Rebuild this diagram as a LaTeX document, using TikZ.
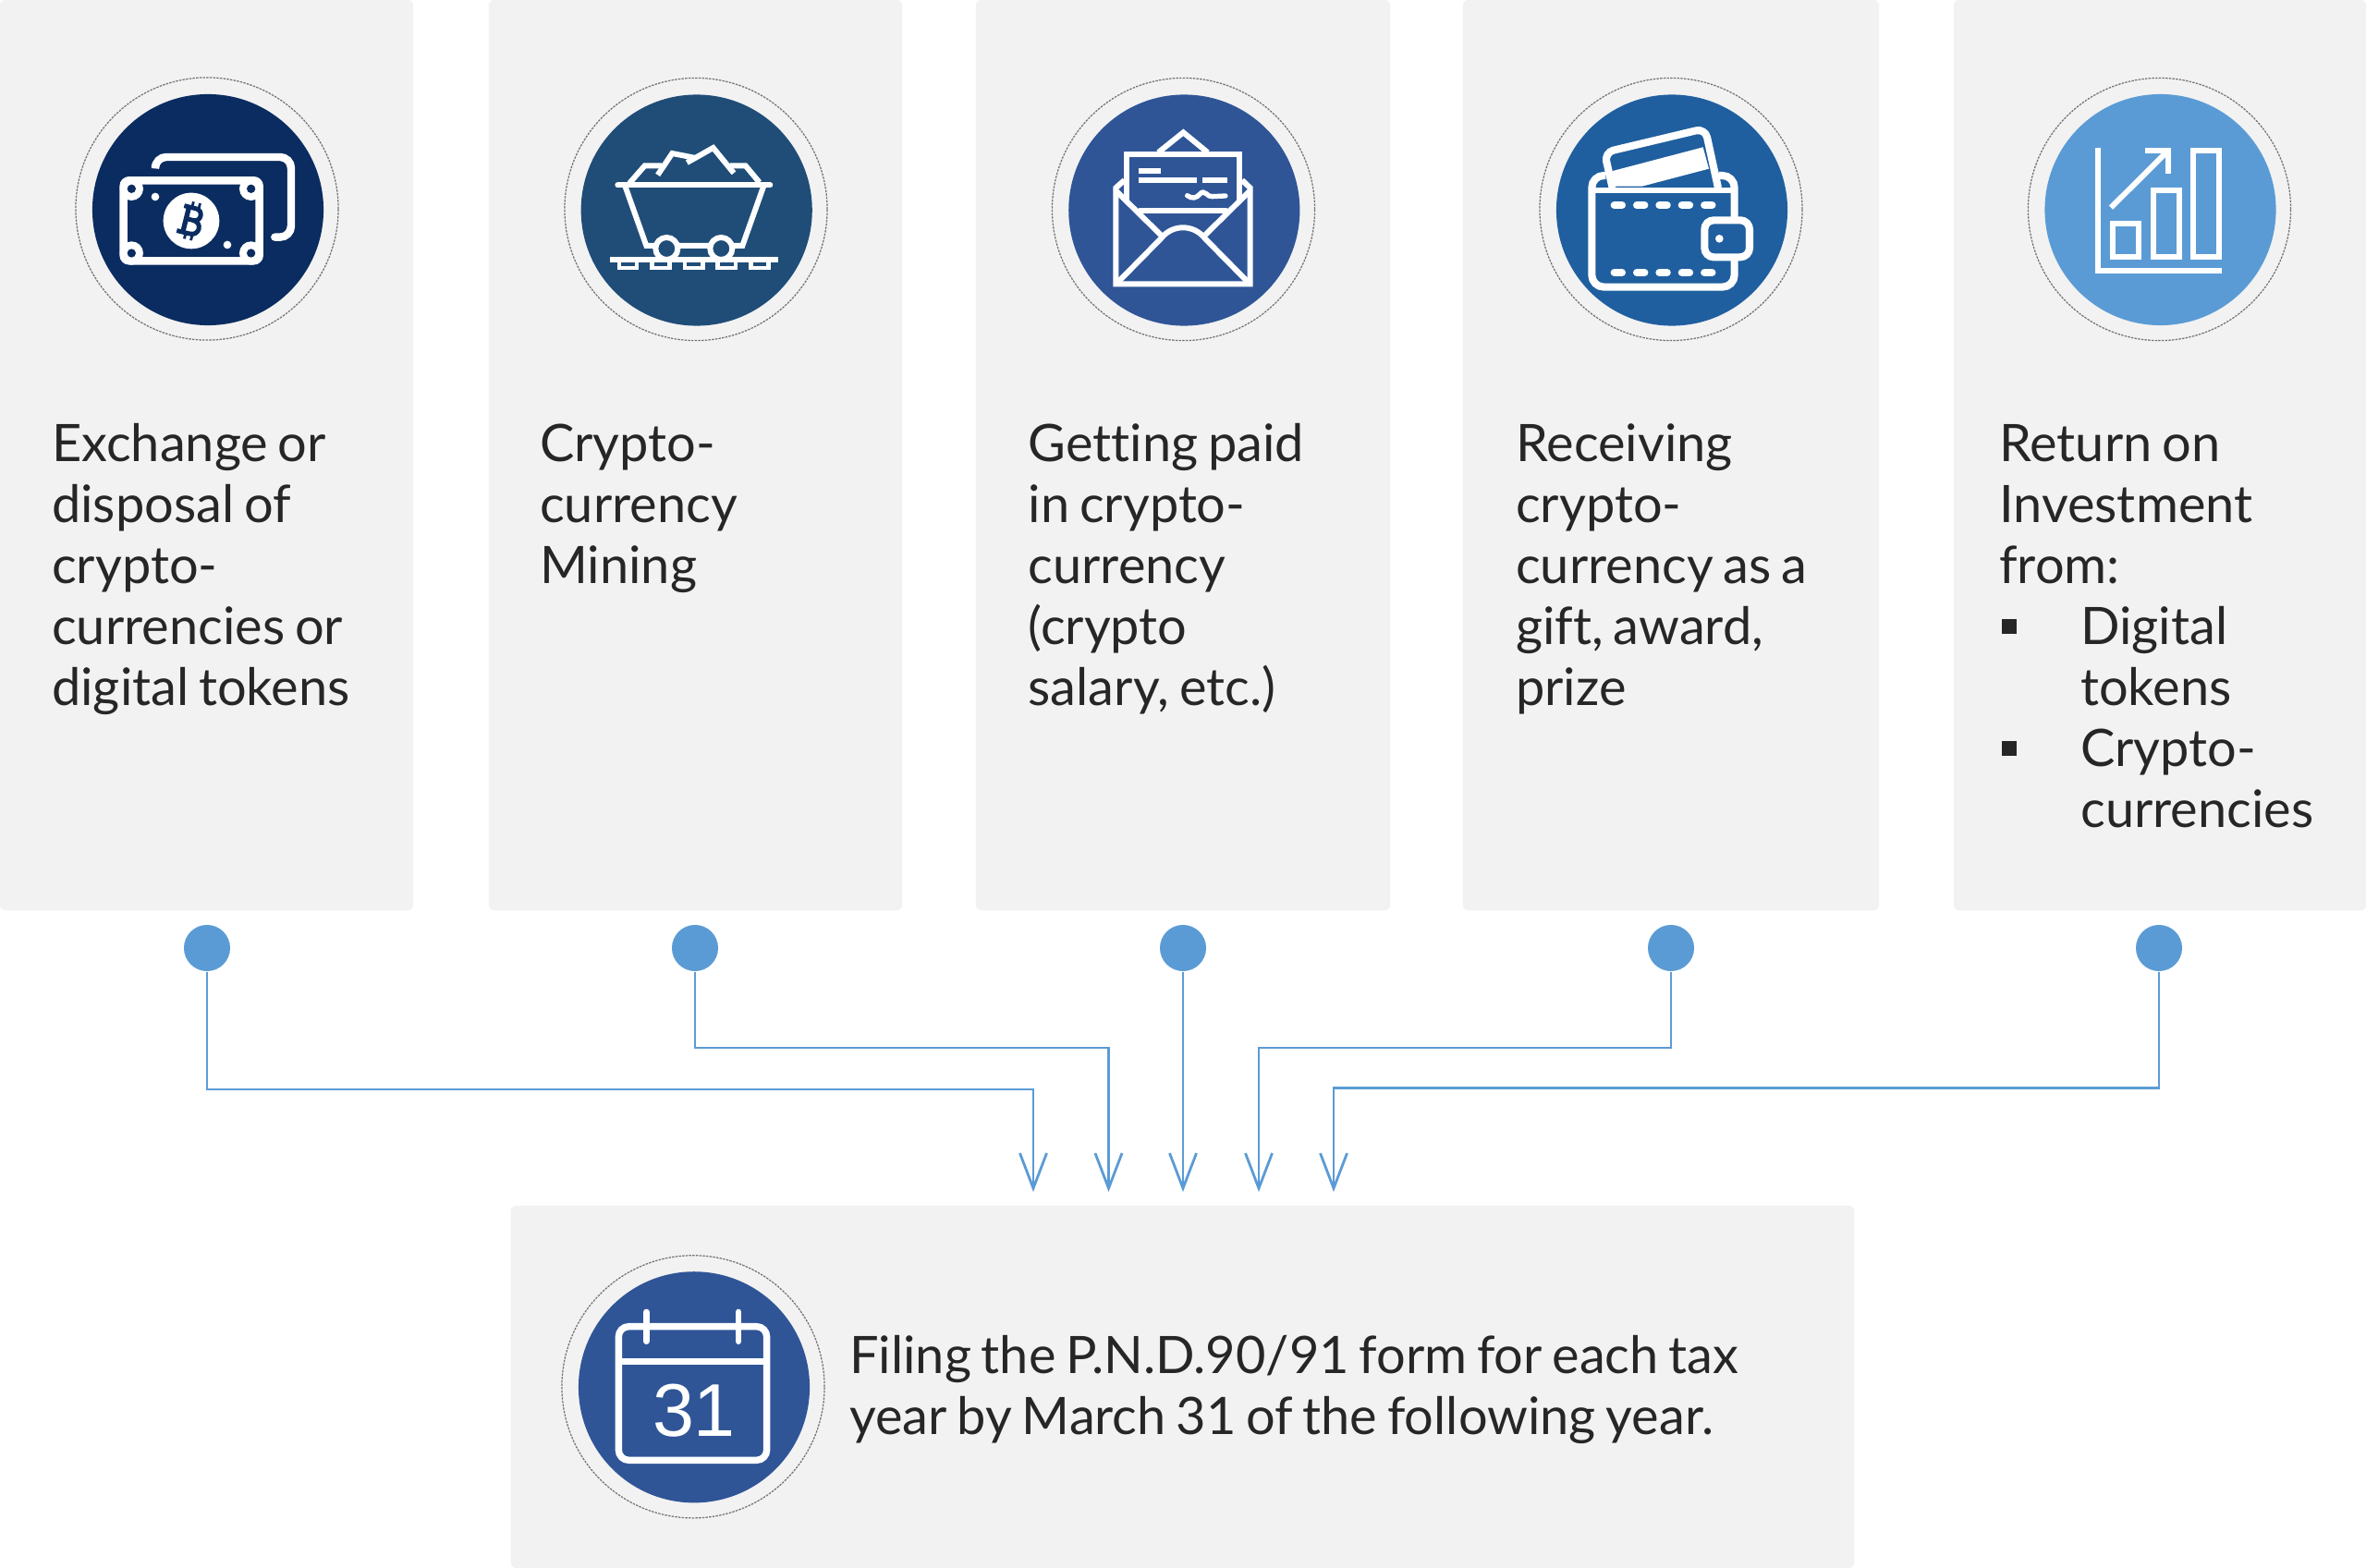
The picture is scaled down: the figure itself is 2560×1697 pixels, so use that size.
\documentclass[tikz,border=0pt]{standalone}
\usepackage{fontspec}
\setmainfont[Ligatures=NoCommon,WordSpace=.75]{Lato}
\usetikzlibrary{arrows.meta}
\definecolor{szurke}{HTML}{F2F2F2}
\definecolor{kek}{HTML}{5B9BD5}
\definecolor{navy}{HTML}{0A2C60}
\definecolor{cart}{HTML}{1F4D78}
\definecolor{mail}{HTML}{2F5597}
\definecolor{wallet}{HTML}{1F5F9F}
\definecolor{betu}{HTML}{262626}
\newcommand{\felso}{\rule{0pt}{.5cm}}
\newcommand{\pont}{\makebox[.88cm][l]{\hspace{.03cm}\rule[.12cm]{.155cm}{.155cm}}}
\begin{document}
\begin{tikzpicture}[%
x=.01cm,y=-.01cm,
>={Straight Barb[length=3.8mm,width=2.9mm]},
panel/.style={fill=szurke, rounded corners=.6mm, inner sep=0},
disc/.style={circle, inner sep=0, minimum size=2.5cm},
ring/.style={circle, inner sep=0, minimum size=2.84cm, draw=black!55, line width=.35pt, dash pattern=on .7pt off .35pt},
dot/.style={circle, inner sep=0, minimum size=.5cm, fill=kek},
link/.style={->, draw=kek, line width=.8pt},
szoveg/.style={anchor=north west, inner sep=0, align=left, text=betu, font=\fontsize{15.9}{18.8}\selectfont},
icon/.style={draw=white, line width=1.7pt},
]

\useasboundingbox (0,0) rectangle (2560,1697);

\node[panel, minimum width=4.47cm, minimum height=9.85cm](p1) at (223.5,492.5){};
\node[panel, minimum width=4.47cm, minimum height=9.85cm](p2) at (752.5,492.5){};
\node[panel, minimum width=4.48cm, minimum height=9.85cm](p3) at (1280,492.5){};
\node[panel, minimum width=4.50cm, minimum height=9.85cm](p4) at (1808,492.5){};
\node[panel, minimum width=4.46cm, minimum height=9.85cm](p5) at (2337,492.5){};
\node[panel, minimum width=14.53cm, minimum height=3.92cm](p6) at (1279.5,1501){};

\node[ring](r1) at (224,226){};
\node[ring](r2) at (753,226.5){};
\node[ring](r3) at (1280.5,226.5){};
\node[ring](r4) at (1808,226.5){};
\node[ring](r5) at (2336.5,226.5){};
\node[ring](r6) at (750,1500.8){};

\node[disc, fill=navy](c1) at (225,227){};
\node[disc, fill=cart](c2) at (753.7,227.5){};
\node[disc, fill=mail](c3) at (1281.3,227.5){};
\node[disc, fill=wallet](c4) at (1809,227.5){};
\node[disc, fill=kek](c5) at (2337.5,227){};
\node[disc, fill=mail](c6) at (751,1501.3){};

\begin{scope}[shift={(60,60)},scale=.3333]
\draw[icon, line width=2.4pt, line cap=round, rounded corners=1.2mm] (324,357)--(324,330)--(765,330)--(765,590)--(712,590);
\draw[icon, line width=2.4pt, rounded corners=.6mm] (221,406) rectangle (662,667);
\fill[white] (247,433) circle (38);
\fill[white] (635,433) circle (38);
\fill[white] (247,642) circle (38);
\fill[white] (635,642) circle (38);
\fill[navy] (247,433) circle (14);
\fill[navy] (635,433) circle (14);
\fill[navy] (247,642) circle (14);
\fill[navy] (635,642) circle (14);
\fill[white] (324,459) circle (13);
\fill[white] (558,615) circle (13);
\fill[white] (441,537) circle (91);
\begin{scope}[shift={(441,537)},rotate=-14]
\draw[navy, line width=1.4pt] (-34,-42)--(6,-42) .. controls (32,-42) and (32,-3) .. (6,-3)--(-18,-3);
\draw[navy, line width=1.4pt] (6,-3) .. controls (38,-3) and (38,42) .. (6,42)--(-38,42);
\draw[navy, line width=1.5pt] (-18,-42)--(-18,42);
\draw[navy, line width=.8pt] (-8,-42)--(-8,-62) (14,-42)--(14,-62) (-8,42)--(-8,62) (14,42)--(14,62);
\end{scope}
\end{scope}

\begin{scope}[shift={(590,70)},scale=.3333]
\draw[icon, line cap=round, line width=1.7pt] (235,391)--(730,391);
\draw[icon] (258,391)--(328,588)--(640,588)--(710,391);
\draw[icon, fill=cart] (394,597) circle (36);
\draw[icon, fill=cart] (571,597) circle (36);
\draw[icon, line width=1.7pt] (210,634)--(757,634);
\draw[icon, line width=1.3pt] (240,634)--(240,660)--(297,660)--(297,634);
\draw[icon, line width=1.3pt] (346,634)--(346,660)--(404,660)--(404,634);
\draw[icon, line width=1.3pt] (453,634)--(453,660)--(511,660)--(511,634);
\draw[icon, line width=1.3pt] (560,634)--(560,660)--(618,660)--(618,634);
\draw[icon, line width=1.3pt] (667,634)--(667,660)--(725,660)--(725,634);
\draw[icon] (273,385)--(323,328)--(378,328);
\draw[icon] (365,358)--(412,288)--(483,302);
\draw[icon] (460,318)--(545,270)--(612,352);
\draw[icon] (600,328)--(650,328)--(695,382);
\end{scope}

\begin{scope}[shift={(1120,70)},scale=.3333]
\draw[icon] (290,375)--(262,400)--(262,712)--(698,712)--(698,400)--(672,375);
\draw[icon] (400,285)--(481,220)--(560,285);
\draw[icon] (297,440)--(297,290)--(663,290)--(663,440);
\draw[icon] (335,475)--(625,475);
\draw[icon] (265,412)--(408,553);
\draw[icon] (695,412)--(552,553);
\draw[icon] (270,705)--(408,565) .. controls (445,517) and (515,517) .. (552,565)--(690,705);
\fill[white] (335,335) rectangle (407,353);
\fill[white] (335,365) rectangle (525,383);
\fill[white] (542,365) rectangle (625,383);
\draw[icon, line width=1.5pt, line cap=round] (494,425) .. controls (510,438) and (525,432) .. (535,420) .. controls (550,402) and (560,432) .. (575,428)--(618,426);
\end{scope}

\begin{scope}[shift={(1650,70)},scale=.3333]
\draw[icon, line width=2.3pt, rounded corners=1.3mm] (262,360)--(217,360)--(217,722)--(680,722)--(680,360)--(630,360);
\draw[icon, line width=1.9pt] (225,408)--(672,408);
\draw[icon, line width=2.3pt, rounded corners=1mm] (284,400)--(258,285)--(585,207)--(627,400);
\fill[white] (285,345)--(578,268)--(597,338)--(380,395)--(272,395)--cycle;
\draw[icon, line width=2.3pt, line cap=round, dash pattern=on 2.37pt off 4.56pt] (290,456)--(610,456);
\draw[icon, line width=2.3pt, line cap=round, dash pattern=on 2.37pt off 4.56pt] (290,675)--(610,675);
\draw[icon, line width=2.3pt, fill=wallet, rounded corners=1mm] (583,505) rectangle (729,625);
\fill[white] (631,565) circle (13);
\end{scope}

\begin{scope}[shift={(2180,70)},scale=.3333]
\draw[icon] (271,270)--(271,670)--(672,670);
\draw[icon] (319,516) rectangle (402,623);
\draw[icon] (450,409) rectangle (533,623);
\draw[icon] (580,278) rectangle (663,623);
\draw[icon] (312,464)--(495,282);
\draw[icon] (423,279)--(497,279)--(497,353);
\end{scope}

\begin{scope}[shift={(600,1350)},scale=.3333]
\draw[icon, line width=2.1pt, rounded corners=1.1mm] (208,257) rectangle (689,691);
\draw[icon, line width=2.1pt] (208,371)--(689,371);
\draw[icon, line width=1.9pt, line cap=round] (298,210)--(298,305);
\draw[icon, line width=1.9pt, line cap=round] (597,210)--(597,305);
\node[text=white, inner sep=0, font=\fontspec{Liberation Sans}\fontsize{23}{23}\selectfont](n31) at (453,531){31};
\end{scope}

\node[szoveg](s1) at (55.5,448.5){\felso Exchange or\\disposal of\\crypto-\\currencies or\\digital tokens};
\node[szoveg](s2) at (583.5,448.5){\felso Crypto-\\currency\\Mining};
\node[szoveg](s3) at (1112,448.5){\felso Getting paid\\in crypto-\\currency\\(crypto\\salary, etc.)};
\node[szoveg](s4) at (1639.5,448.5){\felso Receiving\\crypto-\\currency as a\\gift, award,\\prize};
\node[szoveg](s5) at (2162.5,448.5){\felso Return on\\Investment\\from:\\\pont Digital\\\hspace*{.88cm}tokens\\\pont Crypto-\\\hspace*{.88cm}currencies};
\node[szoveg](s6) at (918.5,1436){\felso Filing the P.N.D.90/91 form for each tax\\year by March 31 of the following year.};

\node[dot](d1) at (224,1026){};
\node[dot](d2) at (752,1026){};
\node[dot](d3) at (1280,1026){};
\node[dot](d4) at (1808,1026){};
\node[dot](d5) at (2336,1026){};

\coordinate (t1) at (1118,1290);
\coordinate (t2) at (1199.5,1290);
\coordinate (t3) at (1280,1290);
\coordinate (t4) at (1362,1290);
\coordinate (t5) at (1443,1290);

\coordinate (k1) at (1118,1179);
\coordinate (k2) at (1199.5,1134);
\coordinate (k4) at (1362,1134);
\coordinate (k5) at (1443,1177.5);

\draw[link] (d1) |- (k1) -- (t1);
\draw[link] (d2) |- (k2) -- (t2);
\draw[link] (d3) -- (t3);
\draw[link] (d4) |- (k4) -- (t4);
\draw[link] (d5) |- (k5) -- (t5);

\end{tikzpicture}
\end{document}
